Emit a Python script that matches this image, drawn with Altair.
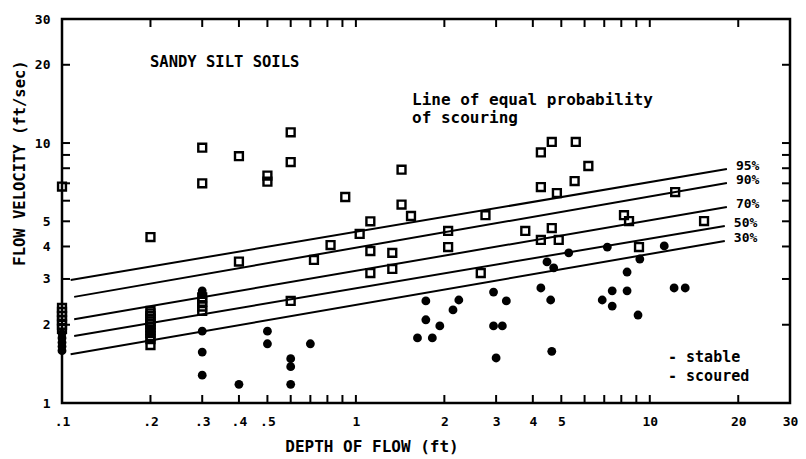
import altair as alt
import pandas as pd

# ---- data ----
# scoured samples (open squares)
SCOURED_X = [0.1, 0.1, 0.1, 0.1, 0.1, 0.1, 0.1,
             0.2, 0.2, 0.2, 0.2, 0.2, 0.2, 0.2, 0.2, 0.2, 0.2, 0.2, 0.2, 0.2,
             0.3, 0.3, 0.3, 0.3, 0.3, 0.3,
             0.4, 0.4, 0.5, 0.5, 0.6, 0.6, 0.6,
             0.72, 0.82, 0.92, 1.03, 1.12, 1.12, 1.12, 1.33, 1.33, 1.43, 1.43, 1.54,
             2.06, 2.06, 2.66, 2.76, 3.77, 4.26, 4.26, 4.26, 4.64, 4.64, 4.83, 4.9,
             5.6, 5.55, 6.18, 8.17, 8.5, 9.19, 12.2, 15.3]
SCOURED_Y = [6.8, 2.32, 2.24, 2.16, 2.08, 2.0, 1.93,
             4.35, 2.26, 2.21, 2.16, 2.11, 2.06, 2.01, 1.96, 1.91, 1.86, 1.81, 1.76, 1.67,
             9.6, 7.0, 2.55, 2.45, 2.35, 2.26,
             8.9, 3.5, 7.5, 7.1, 11.0, 8.45, 2.47,
             3.55, 4.05, 6.2, 4.47, 5.0, 3.84, 3.16, 3.78, 3.28, 7.9, 5.8, 5.24,
             4.59, 3.98, 3.16, 5.28, 4.59, 9.2, 6.77, 4.24, 10.1, 4.71, 6.42, 4.24,
             10.1, 7.14, 8.16, 5.28, 5.01, 3.98, 6.48, 5.01]

# stable samples (filled dots)
STABLE_X = [0.1, 0.1, 0.1, 0.1, 0.1,
            0.3, 0.3, 0.3, 0.3, 0.3, 0.4, 0.5, 0.5, 0.6, 0.6, 0.6, 0.7,
            1.62, 1.73, 1.73, 1.82, 1.93, 2.14, 2.24, 2.94, 2.94, 3.0, 3.15, 3.25,
            4.26, 4.47, 4.6, 4.64, 4.71, 5.3, 6.89, 7.17, 7.45, 7.45, 8.37, 8.37,
            9.12, 9.25, 11.2, 12.1, 13.2]
STABLE_Y = [1.85, 1.78, 1.71, 1.65, 1.59,
            2.7, 2.63, 1.89, 1.57, 1.28, 1.18, 1.89, 1.69, 1.48, 1.38, 1.18, 1.69,
            1.78, 2.47, 2.09, 1.78, 1.98, 2.28, 2.49, 2.67, 1.98, 1.49, 1.98, 2.47,
            2.77, 3.49, 2.49, 1.58, 3.31, 3.78, 2.49, 3.98, 2.70, 2.36, 3.19, 2.70,
            2.18, 3.58, 4.02, 2.77, 2.77]

# lines of equal probability of scouring (end points)
LINE_NAMES = ["95%", "90%", "70%", "50%", "30%"]
LINE_X0 = [0.107, 0.11, 0.11, 0.11, 0.107]
LINE_Y0 = [2.97, 2.56, 2.10, 1.81, 1.54]
LINE_X1 = [18.3, 18.3, 18.3, 18.0, 18.0]
LINE_Y1 = [7.94, 7.02, 5.67, 4.80, 4.20]

X_TICK_VALUES = [0.1, 0.2, 0.3, 0.4, 0.5, 1, 2, 3, 4, 5, 10, 20, 30]
X_TICK_LABELS = [".1", ".2", ".3", ".4", ".5", "1", "2", "3", "4", "5", "10", "20", "30"]
Y_TICK_VALUES = [1, 2, 3, 4, 5, 10, 20, 30]
Y_TICK_LABELS = ["1", "2", "3", "4", "5", "10", "20", "30"]
X_TICK_MARKS = [0.2, 0.3, 0.4, 0.5, 0.6, 0.7, 0.8, 0.9, 1, 2, 3, 4, 5, 6, 7, 8, 9, 10, 20]
Y_TICK_MARKS = [2, 3, 4, 5, 6, 7, 8, 9, 10, 20]

# ---- chart ----
W, H = 728, 384
FONT = "DejaVu Sans Mono"


def label_expr(values, labels):
    expr = "''"
    for v, l in reversed(list(zip(values, labels))):
        expr = f"datum.value == {v} ? '{l}' : " + expr
    return expr


xs = alt.Scale(type="log", domain=[0.1, 30], nice=False)
ys = alt.Scale(type="log", domain=[1, 30], nice=False)

xaxis = alt.Axis(values=X_TICK_VALUES, labelExpr=label_expr(X_TICK_VALUES, X_TICK_LABELS),
                 title=None, grid=False, ticks=False, domain=False, labelFont=FONT,
                 labelFontSize=13, labelFontWeight="bold", labelPadding=12,
                 labelFlush=False, labelOverlap=False, labelColor="black")
yaxis = alt.Axis(values=Y_TICK_VALUES, labelExpr=label_expr(Y_TICK_VALUES, Y_TICK_LABELS),
                 title=None, grid=False, ticks=False, domain=False, labelFont=FONT,
                 labelFontSize=13, labelFontWeight="bold", labelPadding=12,
                 labelFlush=False, labelOverlap=False, labelColor="black")

X = alt.X("x:Q", scale=xs, axis=xaxis)
Y = alt.Y("y:Q", scale=ys, axis=yaxis)

rows = []
for n, x0, y0, x1, y1 in zip(LINE_NAMES, LINE_X0, LINE_Y0, LINE_X1, LINE_Y1):
    rows.append({"name": n, "x": x0, "y": y0})
    rows.append({"name": n, "x": x1, "y": y1})
df_lines = pd.DataFrame(rows)
df_lab = pd.DataFrame({"name": LINE_NAMES, "x": LINE_X1, "y": LINE_Y1})
df_sq = pd.DataFrame({"x": SCOURED_X, "y": SCOURED_Y})
df_dot = pd.DataFrame({"x": STABLE_X, "y": STABLE_Y})
df_xt = pd.DataFrame({"x": X_TICK_MARKS})
df_yt = pd.DataFrame({"y": Y_TICK_MARKS})

lines = alt.Chart(df_lines).mark_line(color="black", strokeWidth=2).encode(
    x=X, y=Y, detail="name:N")
line_labels = alt.Chart(df_lab).mark_text(
    font=FONT, fontSize=13, fontWeight="bold", align="left", baseline="middle",
    dx=9, dy=-3, color="black").encode(x=X, y=Y, text="name:N")
squares = alt.Chart(df_sq).mark_point(
    shape="square", filled=False, color="black", strokeWidth=2.4, size=62, opacity=1
).encode(x=X, y=Y)
dots = alt.Chart(df_dot).mark_circle(color="black", size=78, opacity=1).encode(x=X, y=Y)

tick_b = alt.Chart(df_xt).mark_rule(color="black", strokeWidth=2).encode(
    x=X, y=alt.value(H), y2=alt.value(H - 8))
tick_t = alt.Chart(df_xt).mark_rule(color="black", strokeWidth=2).encode(
    x=X, y=alt.value(0), y2=alt.value(8))
tick_l = alt.Chart(df_yt).mark_rule(color="black", strokeWidth=2).encode(
    y=Y, x=alt.value(0), x2=alt.value(8))
tick_r = alt.Chart(df_yt).mark_rule(color="black", strokeWidth=2).encode(
    y=Y, x=alt.value(W), x2=alt.value(W - 8))


def note(text, px, py, size=14, angle=0, align="left"):
    kw = dict(font=FONT, fontSize=size, fontWeight="bold", align=align,
              baseline="middle", color="black")
    if angle:
        kw["angle"] = angle
    return alt.Chart(pd.DataFrame({"t": [text]})).mark_text(**kw).encode(
        x=alt.value(px), y=alt.value(py), text="t:N")


notes = [
    note("SANDY SILT SOILS", 88, 43, 15.5),
    note("Line of equal probability", 350, 81, 16),
    note("of scouring", 350, 99, 16),
    note("- stable", 606, 338, 15),
    note("- scoured", 606, 357, 15),
    note("DEPTH OF FLOW (ft)", 310, 428, 16, align="center"),
    note("FLOW VELOCITY (ft/sec)", -42, 144, 15.5, angle=270, align="center"),
]

chart = alt.layer(lines, squares, dots, line_labels, tick_b, tick_t, tick_l, tick_r,
                  *notes).properties(
    width=W, height=H,
    autosize=alt.AutoSizeParams(type="none"),
    padding={"left": 54, "top": 11, "right": 8, "bottom": 56},
    background="white",
).configure_view(stroke="black", strokeWidth=2.5).configure_axis(grid=False)

chart.save("out.html", embed_options={"renderer": "svg", "actions": False})
